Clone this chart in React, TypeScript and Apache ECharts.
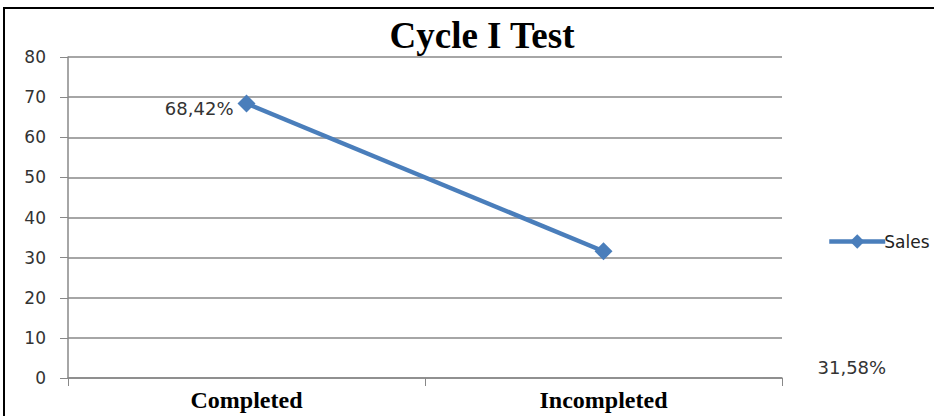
import React, { useEffect, useRef } from "react";
import * as echarts from "echarts";

const categories = ["Completed", "Incompleted"];
const salesValues = [68.42, 31.58];
const valueLabels = ["68,42%", "31,58%"];
const yTicks = { min: 0, max: 80, interval: 10 };

export default function App() {
  const ref = useRef<HTMLDivElement>(null);
  useEffect(() => {
    if (!ref.current) return;
    const chart = echarts.init(ref.current, null, { renderer: "svg" });
    chart.setOption({
      animation: false,
      backgroundColor: "#ffffff",
      title: {
        text: "Cycle I Test",
        left: 477,
        textAlign: "center",
        top: 12,
        textStyle: { fontFamily: "Liberation Serif", fontWeight: "bold", fontSize: 37, color: "#000" },
      },
      legend: {
        left: 822,
        top: 228,
        itemWidth: 56,
        itemHeight: 18,
        itemGap: 2,
        data: ["Sales"],
        lineStyle: { width: 4.5 },
        textStyle: { fontFamily: "DejaVu Sans", fontSize: 17, color: "#222", padding: [0, 0, 0, -6] },
      },
      grid: { left: 68, right: 152, top: 57, bottom: 38 },
      xAxis: {
        type: "category",
        data: categories,
        boundaryGap: true,
        axisLine: { lineStyle: { color: "#888", width: 1.5 } },
        axisTick: { show: true, length: 8, lineStyle: { color: "#888" } },
        axisLabel: { fontFamily: "Liberation Serif", fontWeight: "bold", fontSize: 24, color: "#000", margin: 10 },
      },
      yAxis: {
        type: "value",
        min: yTicks.min,
        max: yTicks.max,
        interval: yTicks.interval,
        axisLine: { show: true, lineStyle: { color: "#888", width: 1.5 } },
        axisTick: { show: true, length: 8, lineStyle: { color: "#888" } },
        axisLabel: { fontFamily: "DejaVu Sans", fontSize: 17, color: "#333", margin: 22 },
        splitLine: { lineStyle: { color: "#888", width: 1.5 } },
      },
      series: [
        {
          name: "Sales",
          type: "line",
          data: salesValues.map((v, i) => ({
            value: v,
            label:
              i === 0
                ? { show: true, position: "left", distance: 4, offset: [0, 5], formatter: valueLabels[i] }
                : { show: true, position: "right", offset: [200, 116], formatter: valueLabels[i] },
          })),
          symbol: "diamond",
          symbolSize: 18,
          lineStyle: { color: "#4a7ebb", width: 4.5 },
          itemStyle: { color: "#4a7ebb" },
          label: { fontFamily: "DejaVu Sans", fontSize: 18, color: "#333" },
        },
      ],
      graphic: [
        {
          type: "rect",
          shape: { x: 4, y: 8, width: 940, height: 420 },
          style: { fill: "none", stroke: "#000", lineWidth: 2 },
          silent: true,
        },
      ],
    });
    return () => chart.dispose();
  }, []);
  return <div ref={ref} style={{ width: 934, height: 416, position: "absolute", left: 0, top: 0 }} />;
}
